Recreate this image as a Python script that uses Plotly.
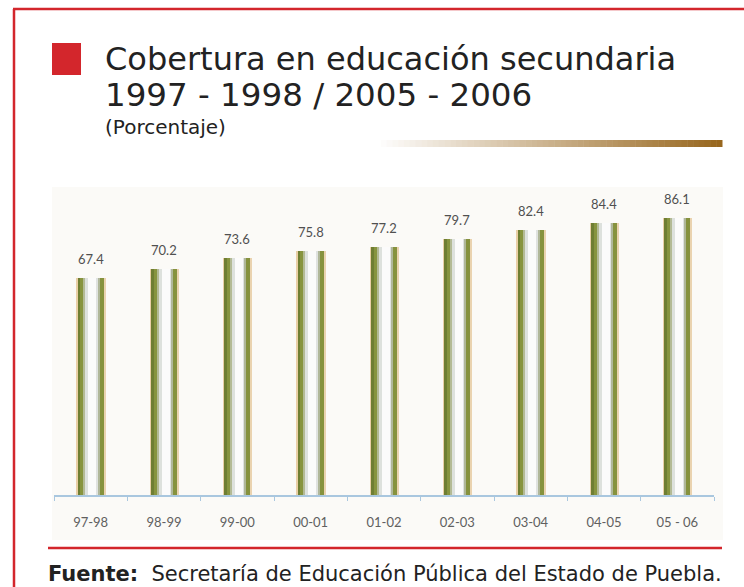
import plotly.graph_objects as go

# School years and secondary-education coverage (%)
periods = ["97-98", "98-99", "99-00", "00-01", "01-02", "02-03", "03-04", "04-05", "05 - 06"]
coverage = [67.4, 70.2, 73.6, 75.8, 77.2, 79.7, 82.4, 84.4, 86.1]

W, H = 744, 587
RED = "#d3262c"

# plot area in pixels
PL, PR, PT, PB = 54, 714, 190, 495
CAT = (PR - PL) / len(periods)  # px per category


def px(x):
    return x / W


def py(y):
    return 1 - y / H


fig = go.Figure()

# cylinder-looking bars: thin vertical strips across each bar (px from bar left edge)
strips = [
    (0, 29, "#f3f5f4"),
    (0.5, 1.5, "#e9cfa6"),
    (1.5, 4, "#6f7e33"),
    (4, 7, "#87943f"),
    (7, 9, "#b3ba95"),
    (9, 12, "#dde1dd"),
    (12, 20, "#fbfbfb"),
    (20, 22, "#dfe2e0"),
    (22, 23.5, "#b0b79a"),
    (23.5, 28, "#86923e"),
    (28, 29, "#ead3b0"),
]
for a, b, col in strips:
    fig.add_bar(
        x=periods, y=coverage,
        offset=(a - 14.5) / CAT, width=(b - a) / CAT,
        marker_color=col, marker_line_width=0,
        hoverinfo="skip", showlegend=False,
    )

# value labels
for p, v in zip(periods, coverage):
    fig.add_annotation(
        x=p, y=v, text=f"{v:.1f}", yshift=19, showarrow=False,
        font=dict(family="Lato", size=13, color="#505050"),
    )

shapes = []
# light chart background
shapes.append(dict(type="rect", xref="paper", yref="paper", x0=px(52), x1=px(723),
                   y0=py(540), y1=py(187), fillcolor="#fbfaf7", line_width=0, layer="below"))
# red frame
shapes.append(dict(type="line", xref="paper", yref="paper", x0=px(13), x1=px(744),
                   y0=py(9), y1=py(9), line=dict(color=RED, width=2.5)))
shapes.append(dict(type="line", xref="paper", yref="paper", x0=px(14), x1=px(14),
                   y0=py(9), y1=py(587), line=dict(color=RED, width=2.5)))
shapes.append(dict(type="line", xref="paper", yref="paper", x0=px(48), x1=px(722),
                   y0=py(548), y1=py(548), line=dict(color=RED, width=2.5)))
# red square
shapes.append(dict(type="rect", xref="paper", yref="paper", x0=px(52), x1=px(81),
                   y0=py(75), y1=py(43), fillcolor=RED, line_width=0))
# gradient rule under the title
g0, g1, n = 375, 722, 60
c0, c1 = (255, 255, 255), (152, 103, 30)
for i in range(n):
    t = i / (n - 1)
    col = "rgb({},{},{})".format(*[int(c0[k] + (c1[k] - c0[k]) * t) for k in range(3)])
    shapes.append(dict(type="rect", xref="paper", yref="paper",
                       x0=px(g0 + (g1 - g0) * i / n), x1=px(g0 + (g1 - g0) * (i + 1) / n + 0.5),
                       y0=py(147), y1=py(140), fillcolor=col, line_width=0))

texts = [
    dict(x=px(103), y=py(59), text="Cobertura en educación secundaria",
         font=dict(family="DejaVu Sans", size=32, color="#222222")),
    dict(x=px(103), y=py(95), text="1997 - 1998 / 2005 - 2006",
         font=dict(family="DejaVu Sans", size=32.5, color="#222222")),
    dict(x=px(103), y=py(127), text="(Porcentaje)",
         font=dict(family="DejaVu Sans", size=20, color="#222222")),
    dict(x=px(46), y=py(574),
         text="<b>Fuente:</b>\u00a0 Secretaría de Educación Pública del Estado de Puebla.",
         font=dict(family="DejaVu Sans", size=21, color="#222222")),
]
for t in texts:
    fig.add_annotation(xref="paper", yref="paper", xanchor="left", yanchor="middle",
                       showarrow=False, **t)

fig.update_layout(
    width=W, height=H,
    margin=dict(l=0, r=0, t=0, b=0),
    paper_bgcolor="white", plot_bgcolor="rgba(0,0,0,0)",
    barmode="overlay", bargap=0,
    shapes=shapes,
    xaxis=dict(
        domain=[px(PL), px(PR)], type="category",
        showline=True, linecolor="#a9c7df", linewidth=2,
        ticks="outside", tickson="boundaries", ticklen=4, tickcolor="#a9c7df",
        ticklabelstandoff=14, showgrid=False,
        tickfont=dict(family="Lato", size=13, color="#606060"),
    ),
    yaxis=dict(
        domain=[py(PB), py(PT)], range=[0, (PB - PT) / 3.218],
        visible=False, showgrid=False,
    ),
)

fig.write_html("out.html", config={"displayModeBar": False},
               post_script="document.body.style.margin='0';")
